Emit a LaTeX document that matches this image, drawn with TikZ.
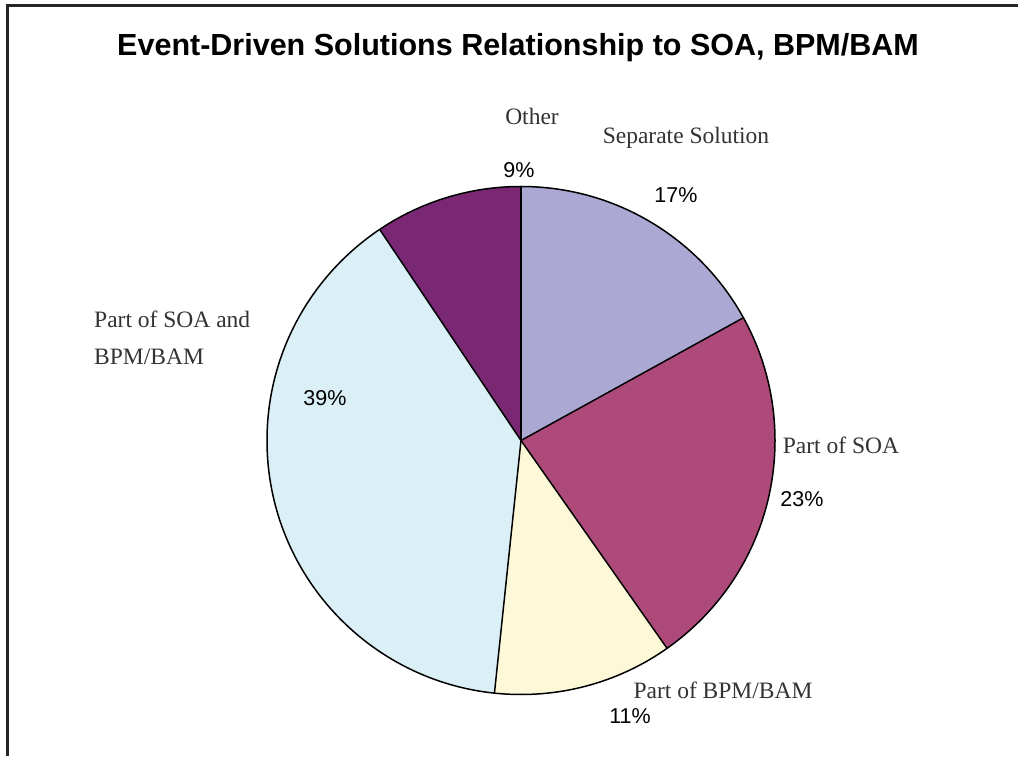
\documentclass[tikz,border=0pt]{standalone}
\usepackage{fontspec}
\setmainfont{Liberation Serif}
\newfontfamily\arialf{Liberation Sans}
\definecolor{cSep}{HTML}{ABA9D4}
\definecolor{cSoa}{HTML}{AE4A7A}
\definecolor{cBpm}{HTML}{FDF9D8}
\definecolor{cBoth}{HTML}{DAF0F6}
\definecolor{cOther}{HTML}{7A2874}
\definecolor{cLab}{HTML}{333333}
\tikzset{
  slice/.style={draw=black, line width=1.5pt, line join=round},
  lab/.style={font=\fontsize{23.5}{28}\selectfont, text=cLab, inner sep=0pt},
  pct/.style={font=\arialf\fontsize{21.5}{25}\selectfont, text=black, inner sep=0pt},
}
\begin{document}
\begin{tikzpicture}[x=1pt,y=1pt]
\useasboundingbox (0,0) rectangle (1018,756);
\fill[white] (0,0) rectangle (1018,756);
% frame (top and left only)
\draw[line width=3pt, color=black!85] (7.5,0) -- (7.5,750) -- (1018,750);
% title
\node[font=\arialf\bfseries\fontsize{30.5}{36}\selectfont, inner sep=0pt] (title) at (518,708) {Event-Driven Solutions Relationship to SOA, BPM/BAM};
% pie
\coordinate (c) at (521,315.5);
\def\R{254}
\fill[cSep] (c) -- ++(28.9:\R) arc[start angle=28.9, end angle=90, radius=\R] -- cycle;
\fill[cSoa] (c) -- ++(-54.9:\R) arc[start angle=-54.9, end angle=28.9, radius=\R] -- cycle;
\fill[cBpm] (c) -- ++(-96:\R) arc[start angle=-96, end angle=-54.9, radius=\R] -- cycle;
\fill[cBoth] (c) -- ++(123.8:\R) arc[start angle=123.8, end angle=264, radius=\R] -- cycle;
\fill[cOther] (c) -- ++(90:\R) arc[start angle=90, end angle=123.8, radius=\R] -- cycle;
\draw[slice] (c) circle[radius=\R];
\foreach \a in {90,28.9,-54.9,-96,123.8} \draw[slice] (c) -- ++(\a:\R);
% labels
\node[lab] (lOther) at (532,640) {Other};
\node[pct] (pOther) at (519,586) {9\%};
\node[lab] (lSep) at (686,618) {Separate Solution};
\node[pct] (pSep) at (676,561) {17\%};
\node[lab] (lSoa) at (841,311) {Part of SOA};
\node[pct] (pSoa) at (802,257) {23\%};
\node[lab] (lBpm) at (723,66) {Part of BPM/BAM};
\node[pct] (pBpm) at (630,40) {11\%};
\node[lab, align=left, anchor=west, font=\fontsize{23.5}{37}\selectfont] (lBoth) at (94,418) {Part of SOA and\\BPM/BAM};
\node[pct] (pBoth) at (325,358) {39\%};
\end{tikzpicture}
\end{document}
